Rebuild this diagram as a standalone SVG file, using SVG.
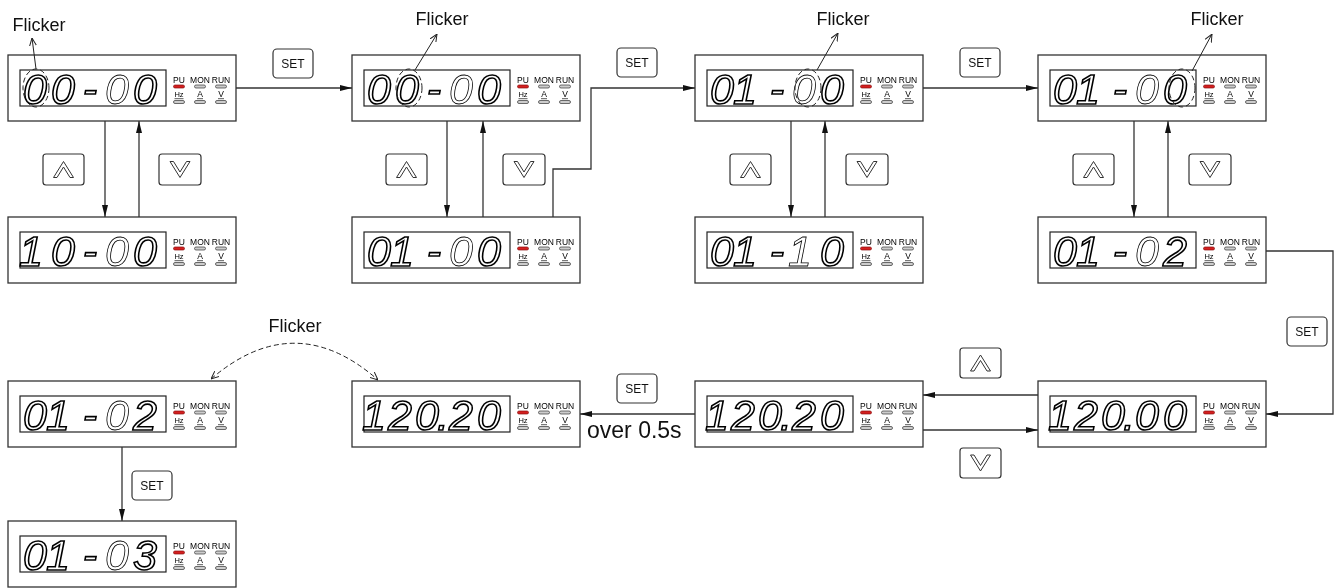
<svg xmlns="http://www.w3.org/2000/svg" xmlns:xlink="http://www.w3.org/1999/xlink" width="1338" height="588" viewBox="0 0 1338 588">
<style>
.box{fill:#fff;stroke:#333;stroke-width:1.3}
.disp{fill:#fff;stroke:#222;stroke-width:1.2}
.dg{font-family:"Liberation Sans",Arial,sans-serif;font-style:italic;font-size:43px;text-anchor:middle;fill:#fff;stroke:#000;stroke-width:1.6;filter:url(#gs)}
.dt{stroke-width:0.8}
.led{font-family:"Liberation Sans",Arial,sans-serif;font-size:8.5px;text-anchor:middle;fill:#000;filter:url(#gs)}
.hz{font-size:7.5px}
.lbl{font-family:"Liberation Sans",Arial,sans-serif;font-size:18px;fill:#111;text-anchor:middle;filter:url(#gs)}
.btn{fill:#fff;stroke:#333;stroke-width:1.2}
.set{font-family:"Liberation Sans",Arial,sans-serif;font-size:12px;text-anchor:middle;fill:#111;filter:url(#gs)}
.chev{fill:#fff;stroke:#333;stroke-width:1}
.conn path{fill:none;stroke:#333;stroke-width:1.3}
.flk{fill:none;stroke:#222;stroke-width:1;stroke-dasharray:5 3}
.ptr{fill:none;stroke:#222;stroke-width:1}
</style>
<defs>
<filter id="gs" x="-20%" y="-20%" width="140%" height="140%"><feColorMatrix type="saturate" values="0"/></filter>
<marker id="ah" viewBox="0 0 12 6" refX="12" refY="3" markerWidth="12" markerHeight="6" markerUnits="userSpaceOnUse" orient="auto"><path d="M0,0 L12,3 L0,6 z" fill="#111"/></marker>
<marker id="oa" viewBox="0 0 8 8" refX="8" refY="4" markerWidth="8" markerHeight="8" markerUnits="userSpaceOnUse" orient="auto-start-reverse"><path d="M0,0.5 L8,4 L0,7.5" fill="none" stroke="#222" stroke-width="1"/></marker>
<g id="leds">
<rect x="165.5" y="30" width="11" height="3" rx="1.5" fill="#d42020" stroke="#8a1010" stroke-width="0.7"/>
<rect x="186.5" y="30" width="11" height="3" rx="1.5" fill="#ccc" stroke="#333" stroke-width="0.7"/>
<rect x="207.5" y="30" width="11" height="3" rx="1.5" fill="#ccc" stroke="#333" stroke-width="0.7"/>
<rect x="165.5" y="45.5" width="11" height="3" rx="1.5" fill="#ccc" stroke="#333" stroke-width="0.7"/>
<rect x="186.5" y="45.5" width="11" height="3" rx="1.5" fill="#ccc" stroke="#333" stroke-width="0.7"/>
<rect x="207.5" y="45.5" width="11" height="3" rx="1.5" fill="#ccc" stroke="#333" stroke-width="0.7"/>
<path d="M166.5,43.7 H175.5 M189,43.7 H195 M210,43.7 H216" stroke="#111" stroke-width="0.7"/>
</g>
<path id="chU" d="M-10,8 L0,-8 L10,8 L6.5,8 L0,-2.5 L-6.5,8 Z"/>
<path id="chD" d="M-10,-8 L0,8 L10,-8 L6.5,-8 L0,2.5 L-6.5,-8 Z"/>
</defs>
<rect width="1338" height="588" fill="#fff"/>

<g class="conn">
<path d="M236,88 H352" marker-end="url(#ah)"/>
<path d="M105,121 V217" marker-end="url(#ah)"/>
<path d="M139,217 V121" marker-end="url(#ah)"/>
<path d="M447,121 V217" marker-end="url(#ah)"/>
<path d="M483,217 V121" marker-end="url(#ah)"/>
<path d="M553,217 V169 H591 V88 H695" marker-end="url(#ah)"/>
<path d="M923,88 H1038" marker-end="url(#ah)"/>
<path d="M791,121 V217" marker-end="url(#ah)"/>
<path d="M825,217 V121" marker-end="url(#ah)"/>
<path d="M1134,121 V217" marker-end="url(#ah)"/>
<path d="M1168,217 V121" marker-end="url(#ah)"/>
<path d="M1266,251 H1333 V414 H1266" marker-end="url(#ah)"/>
<path d="M1038,395 H923" marker-end="url(#ah)"/>
<path d="M923,430 H1038" marker-end="url(#ah)"/>
<path d="M695,414 H580" marker-end="url(#ah)"/>
<path d="M122,447 V521" marker-end="url(#ah)"/>
</g>

<g id="buttons">
<rect class="btn" x="273" y="49" width="40" height="29" rx="4"/><text class="set" x="293" y="68">SET</text>
<rect class="btn" x="617" y="48" width="40" height="29" rx="4"/><text class="set" x="637" y="67">SET</text>
<rect class="btn" x="960" y="48" width="40" height="29" rx="4"/><text class="set" x="980" y="67">SET</text>
<rect class="btn" x="1287" y="317" width="40" height="29" rx="4"/><text class="set" x="1307" y="336">SET</text>
<rect class="btn" x="617" y="374" width="40" height="29" rx="4"/><text class="set" x="637" y="393">SET</text>
<rect class="btn" x="132" y="471" width="40" height="29" rx="4"/><text class="set" x="152" y="490">SET</text>
<rect class="btn" x="43" y="154" width="41" height="31" rx="3"/><use href="#chU" xlink:href="#chU" class="chev" transform="translate(63.5,169.5)"/>
<rect class="btn" x="159" y="154" width="42" height="31" rx="3"/><use href="#chD" xlink:href="#chD" class="chev" transform="translate(180,169.5)"/>
<rect class="btn" x="386" y="154" width="41" height="31" rx="3"/><use href="#chU" xlink:href="#chU" class="chev" transform="translate(406.5,169.5)"/>
<rect class="btn" x="503" y="154" width="42" height="31" rx="3"/><use href="#chD" xlink:href="#chD" class="chev" transform="translate(524,169.5)"/>
<rect class="btn" x="730" y="154" width="41" height="31" rx="3"/><use href="#chU" xlink:href="#chU" class="chev" transform="translate(750.5,169.5)"/>
<rect class="btn" x="846" y="154" width="42" height="31" rx="3"/><use href="#chD" xlink:href="#chD" class="chev" transform="translate(867,169.5)"/>
<rect class="btn" x="1073" y="154" width="41" height="31" rx="3"/><use href="#chU" xlink:href="#chU" class="chev" transform="translate(1093.5,169.5)"/>
<rect class="btn" x="1189" y="154" width="42" height="31" rx="3"/><use href="#chD" xlink:href="#chD" class="chev" transform="translate(1210,169.5)"/>
<rect class="btn" x="960" y="348" width="41" height="30" rx="3"/><use href="#chU" xlink:href="#chU" class="chev" transform="translate(980.5,363)"/>
<rect class="btn" x="960" y="448" width="41" height="30" rx="3"/><use href="#chD" xlink:href="#chD" class="chev" transform="translate(980.5,463)"/>
</g>

<g id="n1" transform="translate(8,55)">
<rect class="box" width="228" height="66"/><rect class="disp" x="12" y="15" width="146" height="36"/>
<text class="dg" x="27" y="49">0</text><text class="dg" x="55" y="49">0</text><text class="dg" x="82" y="49">-</text><text class="dg dt" x="109" y="49">0</text><text class="dg" x="137" y="49">0</text>
<use href="#leds" xlink:href="#leds"/>
<text class="led" x="171" y="28">PU</text><text class="led" x="192" y="28">MON</text><text class="led" x="213" y="28">RUN</text>
<text class="led hz" x="171" y="42">Hz</text><text class="led" x="192" y="42">A</text><text class="led" x="213" y="42">V</text>
</g>
<g id="n2" transform="translate(352,55)">
<rect class="box" width="228" height="66"/><rect class="disp" x="12" y="15" width="146" height="36"/>
<text class="dg" x="27" y="49">0</text><text class="dg" x="55" y="49">0</text><text class="dg" x="82" y="49">-</text><text class="dg dt" x="109" y="49">0</text><text class="dg" x="137" y="49">0</text>
<use href="#leds" xlink:href="#leds"/>
<text class="led" x="171" y="28">PU</text><text class="led" x="192" y="28">MON</text><text class="led" x="213" y="28">RUN</text>
<text class="led hz" x="171" y="42">Hz</text><text class="led" x="192" y="42">A</text><text class="led" x="213" y="42">V</text>
</g>
<g id="n3" transform="translate(695,55)">
<rect class="box" width="228" height="66"/><rect class="disp" x="12" y="15" width="146" height="36"/>
<text class="dg" x="27" y="49">0</text><text class="dg" x="50" y="49">1</text><text class="dg" x="82" y="49">-</text><text class="dg dt" x="109" y="49">0</text><text class="dg" x="137" y="49">0</text>
<use href="#leds" xlink:href="#leds"/>
<text class="led" x="171" y="28">PU</text><text class="led" x="192" y="28">MON</text><text class="led" x="213" y="28">RUN</text>
<text class="led hz" x="171" y="42">Hz</text><text class="led" x="192" y="42">A</text><text class="led" x="213" y="42">V</text>
</g>
<g id="n4" transform="translate(1038,55)">
<rect class="box" width="228" height="66"/><rect class="disp" x="12" y="15" width="146" height="36"/>
<text class="dg" x="27" y="49">0</text><text class="dg" x="50" y="49">1</text><text class="dg" x="82" y="49">-</text><text class="dg dt" x="109" y="49">0</text><text class="dg" x="137" y="49">0</text>
<use href="#leds" xlink:href="#leds"/>
<text class="led" x="171" y="28">PU</text><text class="led" x="192" y="28">MON</text><text class="led" x="213" y="28">RUN</text>
<text class="led hz" x="171" y="42">Hz</text><text class="led" x="192" y="42">A</text><text class="led" x="213" y="42">V</text>
</g>
<g id="n5" transform="translate(8,217)">
<rect class="box" width="228" height="66"/><rect class="disp" x="12" y="15" width="146" height="36"/>
<text class="dg" x="23" y="49">1</text><text class="dg" x="55" y="49">0</text><text class="dg" x="82" y="49">-</text><text class="dg dt" x="109" y="49">0</text><text class="dg" x="137" y="49">0</text>
<use href="#leds" xlink:href="#leds"/>
<text class="led" x="171" y="28">PU</text><text class="led" x="192" y="28">MON</text><text class="led" x="213" y="28">RUN</text>
<text class="led hz" x="171" y="42">Hz</text><text class="led" x="192" y="42">A</text><text class="led" x="213" y="42">V</text>
</g>
<g id="n6" transform="translate(352,217)">
<rect class="box" width="228" height="66"/><rect class="disp" x="12" y="15" width="146" height="36"/>
<text class="dg" x="27" y="49">0</text><text class="dg" x="50" y="49">1</text><text class="dg" x="82" y="49">-</text><text class="dg dt" x="109" y="49">0</text><text class="dg" x="137" y="49">0</text>
<use href="#leds" xlink:href="#leds"/>
<text class="led" x="171" y="28">PU</text><text class="led" x="192" y="28">MON</text><text class="led" x="213" y="28">RUN</text>
<text class="led hz" x="171" y="42">Hz</text><text class="led" x="192" y="42">A</text><text class="led" x="213" y="42">V</text>
</g>
<g id="n7" transform="translate(695,217)">
<rect class="box" width="228" height="66"/><rect class="disp" x="12" y="15" width="146" height="36"/>
<text class="dg" x="27" y="49">0</text><text class="dg" x="50" y="49">1</text><text class="dg" x="82" y="49">-</text><text class="dg dt" x="105" y="49">1</text><text class="dg" x="137" y="49">0</text>
<use href="#leds" xlink:href="#leds"/>
<text class="led" x="171" y="28">PU</text><text class="led" x="192" y="28">MON</text><text class="led" x="213" y="28">RUN</text>
<text class="led hz" x="171" y="42">Hz</text><text class="led" x="192" y="42">A</text><text class="led" x="213" y="42">V</text>
</g>
<g id="n8" transform="translate(1038,217)">
<rect class="box" width="228" height="66"/><rect class="disp" x="12" y="15" width="146" height="36"/>
<text class="dg" x="27" y="49">0</text><text class="dg" x="50" y="49">1</text><text class="dg" x="82" y="49">-</text><text class="dg dt" x="109" y="49">0</text><text class="dg" x="137" y="49">2</text>
<use href="#leds" xlink:href="#leds"/>
<text class="led" x="171" y="28">PU</text><text class="led" x="192" y="28">MON</text><text class="led" x="213" y="28">RUN</text>
<text class="led hz" x="171" y="42">Hz</text><text class="led" x="192" y="42">A</text><text class="led" x="213" y="42">V</text>
</g>
<g id="n9" transform="translate(8,381)">
<rect class="box" width="228" height="66"/><rect class="disp" x="12" y="15" width="146" height="36"/>
<text class="dg" x="27" y="49">0</text><text class="dg" x="50" y="49">1</text><text class="dg" x="82" y="49">-</text><text class="dg dt" x="109" y="49">0</text><text class="dg" x="137" y="49">2</text>
<use href="#leds" xlink:href="#leds"/>
<text class="led" x="171" y="28">PU</text><text class="led" x="192" y="28">MON</text><text class="led" x="213" y="28">RUN</text>
<text class="led hz" x="171" y="42">Hz</text><text class="led" x="192" y="42">A</text><text class="led" x="213" y="42">V</text>
</g>
<g id="n10" transform="translate(352,381)">
<rect class="box" width="228" height="66"/><rect class="disp" x="12" y="15" width="146" height="36"/>
<text class="dg" x="22" y="49">1</text><text class="dg" x="48" y="49">2</text><text class="dg" x="75" y="49">0</text><text class="dg" x="91" y="49">.</text><text class="dg" x="109" y="49">2</text><text class="dg" x="137" y="49">0</text>
<use href="#leds" xlink:href="#leds"/>
<text class="led" x="171" y="28">PU</text><text class="led" x="192" y="28">MON</text><text class="led" x="213" y="28">RUN</text>
<text class="led hz" x="171" y="42">Hz</text><text class="led" x="192" y="42">A</text><text class="led" x="213" y="42">V</text>
</g>
<g id="n11" transform="translate(695,381)">
<rect class="box" width="228" height="66"/><rect class="disp" x="12" y="15" width="146" height="36"/>
<text class="dg" x="22" y="49">1</text><text class="dg" x="48" y="49">2</text><text class="dg" x="75" y="49">0</text><text class="dg" x="91" y="49">.</text><text class="dg" x="109" y="49">2</text><text class="dg" x="137" y="49">0</text>
<use href="#leds" xlink:href="#leds"/>
<text class="led" x="171" y="28">PU</text><text class="led" x="192" y="28">MON</text><text class="led" x="213" y="28">RUN</text>
<text class="led hz" x="171" y="42">Hz</text><text class="led" x="192" y="42">A</text><text class="led" x="213" y="42">V</text>
</g>
<g id="n12" transform="translate(1038,381)">
<rect class="box" width="228" height="66"/><rect class="disp" x="12" y="15" width="146" height="36"/>
<text class="dg" x="22" y="49">1</text><text class="dg" x="48" y="49">2</text><text class="dg" x="75" y="49">0</text><text class="dg" x="91" y="49">.</text><text class="dg" x="109" y="49">0</text><text class="dg" x="137" y="49">0</text>
<use href="#leds" xlink:href="#leds"/>
<text class="led" x="171" y="28">PU</text><text class="led" x="192" y="28">MON</text><text class="led" x="213" y="28">RUN</text>
<text class="led hz" x="171" y="42">Hz</text><text class="led" x="192" y="42">A</text><text class="led" x="213" y="42">V</text>
</g>
<g id="n13" transform="translate(8,521)">
<rect class="box" width="228" height="66"/><rect class="disp" x="12" y="15" width="146" height="36"/>
<text class="dg" x="27" y="49">0</text><text class="dg" x="50" y="49">1</text><text class="dg" x="82" y="49">-</text><text class="dg dt" x="109" y="49">0</text><text class="dg" x="137" y="49">3</text>
<use href="#leds" xlink:href="#leds"/>
<text class="led" x="171" y="28">PU</text><text class="led" x="192" y="28">MON</text><text class="led" x="213" y="28">RUN</text>
<text class="led hz" x="171" y="42">Hz</text><text class="led" x="192" y="42">A</text><text class="led" x="213" y="42">V</text>
</g>

<g id="flicker">
<ellipse class="flk" cx="36" cy="88" rx="13" ry="19"/>
<path class="ptr" d="M36,69 L32,38" marker-end="url(#oa)"/>
<text class="lbl" x="39" y="31">Flicker</text>
<ellipse class="flk" cx="409" cy="88" rx="13" ry="19"/>
<path class="ptr" d="M415,70 L437,34" marker-end="url(#oa)"/>
<text class="lbl" x="442" y="25">Flicker</text>
<ellipse class="flk" cx="808" cy="88" rx="13" ry="19"/>
<path class="ptr" d="M817,70 L838,33" marker-end="url(#oa)"/>
<text class="lbl" x="843" y="25">Flicker</text>
<ellipse class="flk" cx="1182" cy="88" rx="13" ry="19"/>
<path class="ptr" d="M1192,71 L1212,34" marker-end="url(#oa)"/>
<text class="lbl" x="1217" y="25">Flicker</text>
<path class="flk" d="M211,379 Q295,307 378,380" marker-start="url(#oa)" marker-end="url(#oa)"/>
<text class="lbl" x="295" y="332">Flicker</text>
</g>
<text x="587" y="438" font-family="Liberation Sans, Arial, sans-serif" font-size="23" fill="#111" filter="url(#gs)">over 0.5s</text>
</svg>
